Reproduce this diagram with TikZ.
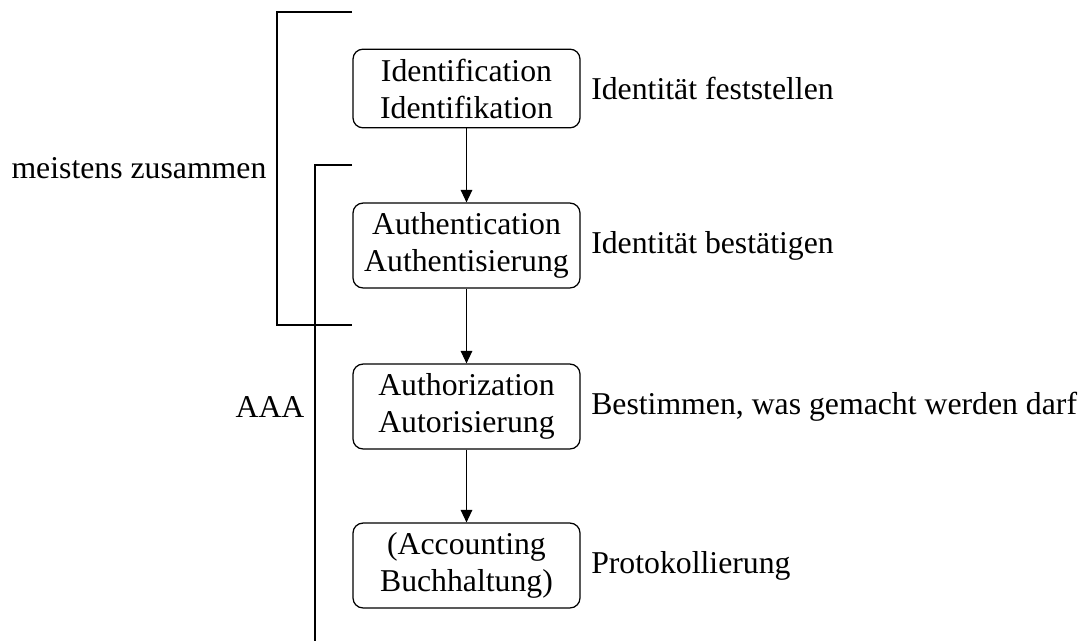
\documentclass[tikz,border=0pt]{standalone}
\usepackage{fontspec}
\setmainfont{Liberation Serif}
\usetikzlibrary{arrows.meta}
\begin{document}
\begin{tikzpicture}[x=0.4pt,y=-0.4pt,
  font=\fontsize{12.7}{14.8}\selectfont,
  every path/.style={line width=0.5pt},
  stage/.style={draw, rounded corners=4pt, minimum width=90.8pt,
    align=center, inner xsep=4pt, inner ysep=3.8pt},
  note/.style={anchor=west, inner sep=4pt},
  flow/.style={-{Triangle[length=5pt,width=4.6pt]}}]
  \useasboundingbox (0,0) rectangle (1082,641);

  % process stages
  \node[stage] (b1) at (466.5,88.5) {Identification\\Identifikation};
  \node[stage] (b2) at (466.5,245.5) {Authentication\\Authentisierung};
  \node[stage] (b3) at (466.5,406.5) {Authorization\\Autorisierung};
  \node[stage] (b4) at (466.5,565.5) {(Accounting\\Buchhaltung)};

  \draw[flow] (b1) -- (b2);
  \draw[flow] (b2) -- (b3);
  \draw[flow] (b3) -- (b4);

  % descriptions on the right
  \node[note] (r1) at (b1.east) {Identität feststellen};
  \node[note] (r2) at (b2.east) {Identität bestätigen};
  \node[note] (r3) at (b3.east) {Bestimmen, was gemacht werden darf};
  \node[note] (r4) at (b4.east) {Protokollierung};

  % bracket: identification + authentication
  \coordinate (m1) at (352,12);
  \coordinate (m2) at (277,12);
  \coordinate (m3) at (277,325);
  \coordinate (m4) at (352,325);
  \draw (m1) -- (m2) -- (m3) -- (m4);
  \node[anchor=east, inner sep=4pt] (lm) at (277,168.5) {meistens zusammen};

  % bracket: AAA
  \coordinate (a1) at (352,165);
  \coordinate (a2) at (315,165);
  \coordinate (a3) at (315,641);
  \draw (a1) -- (a2) -- (a3);
  \node[anchor=east, inner sep=4pt] (la) at (315,407) {AAA};
\end{tikzpicture}
\end{document}
